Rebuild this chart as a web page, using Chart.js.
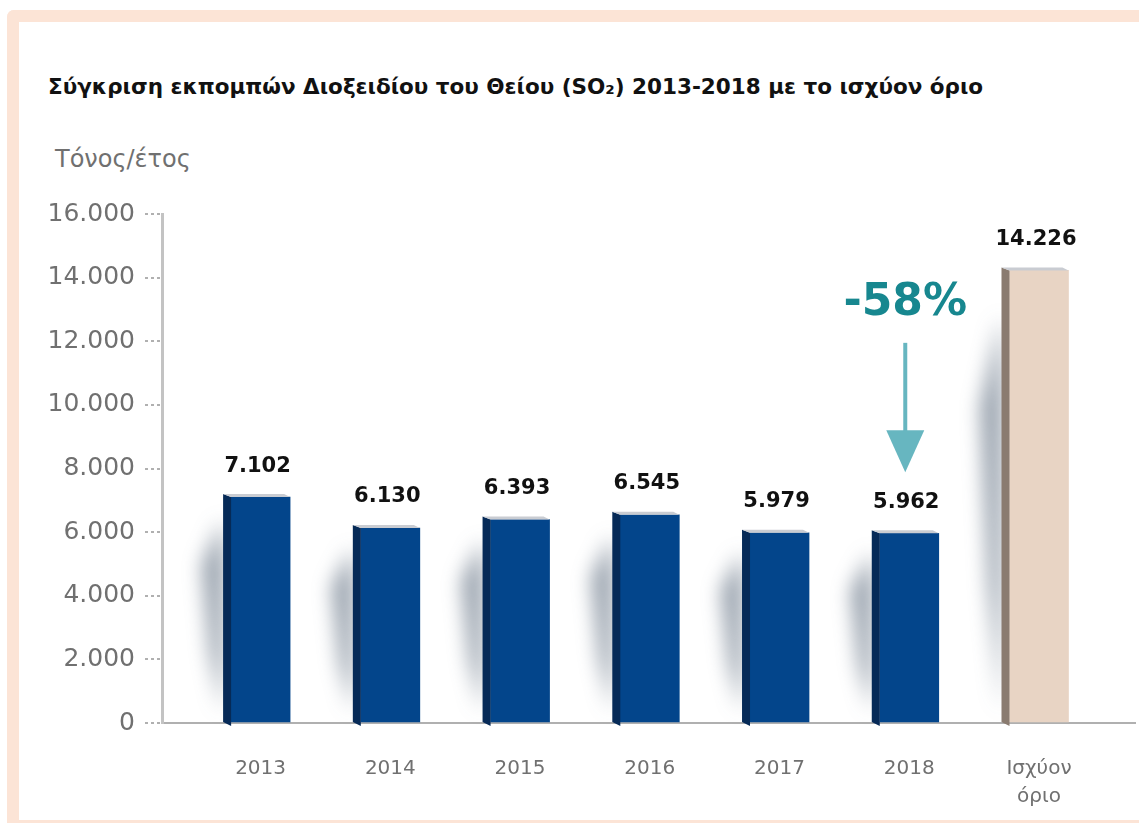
<!DOCTYPE html>
<html>
<head>
<meta charset="utf-8">
<script src="https://cdn.jsdelivr.net/npm/chart.js@4.4.1/dist/chart.umd.min.js"></script>
<style>
  html, body { margin: 0; padding: 0; background: #fff; }
  body { width: 1139px; height: 823px; position: relative; overflow: hidden; font-family: "DejaVu Sans", sans-serif; }
  #frame { position: absolute; left: 7px; top: 10px; width: 1200px; height: 798px; border: 12px solid #fce4d6; border-right: none; border-radius: 7px 0 0 0; }
  #titlos { position: absolute; left: 48px; top: 74px; font-size: 21.5px; font-weight: bold; color: #111; white-space: nowrap; }
  #monada { position: absolute; left: 55px; top: 145px; font-size: 24px; color: #707070; }
  #wrap { position: absolute; left: 0; top: 0; width: 1139px; height: 823px; }
</style>
</head>
<body>
<div id="frame"></div>
<div id="titlos">Σύγκριση εκπομπών Διοξειδίου του Θείου (SO₂) 2013-2018 με το ισχύον όριο</div>
<div id="monada">Τόνος/έτος</div>
<div id="wrap"><canvas id="grafima" width="1139" height="823"></canvas></div>
<script>
const katigories = [['2013'], ['2014'], ['2015'], ['2016'], ['2017'], ['2018'], ['Ισχύον', 'όριο']];
const ekpompes = [7102, 6130, 6393, 6545, 5979, 5962, 14226];
const yTicks = [0, 2000, 4000, 6000, 8000, 10000, 12000, 14000, 16000];
const meiosi = '-58%';

const xromata = ['#03458b', '#03458b', '#03458b', '#03458b', '#03458b', '#03458b', '#e8d4c4'];
const plagia = ['#062a57', '#062a57', '#062a57', '#062a57', '#062a57', '#062a57', '#8a7b70'];

function morfi(v) {
  return String(v).replace(/\B(?=(\d{3})+(?!\d))/g, '.');
}

const trisdiastato = {
  id: 'trisdiastato',
  beforeDatasetsDraw(chart) {
    const ctx = chart.ctx;
    const meta = chart.getDatasetMeta(0);
    ctx.save();
    ctx.filter = 'blur(10px)';
    meta.data.forEach((bar) => {
      const L = bar.x - bar.width / 2 - 8;
      const h = bar.base - bar.y;
      ctx.fillStyle = 'rgba(60, 78, 100, 0.6)';
      ctx.beginPath();
      ctx.moveTo(L, bar.y + h * 0.1);
      ctx.lineTo(L - 20, bar.y + h * 0.3);
      ctx.lineTo(L - 12, bar.y + h * 0.7);
      ctx.lineTo(L, bar.base - 10);
      ctx.closePath();
      ctx.fill();
    });
    ctx.restore();
  },
  afterDatasetsDraw(chart) {
    const ctx = chart.ctx;
    const meta = chart.getDatasetMeta(0);
    ctx.save();
    meta.data.forEach((bar, i) => {
      const L = bar.x - bar.width / 2;
      const R = bar.x + bar.width / 2;
      // plagia pleura
      ctx.fillStyle = plagia[i];
      ctx.beginPath();
      ctx.moveTo(L - 8, bar.y - 3);
      ctx.lineTo(L, bar.y);
      ctx.lineTo(L, bar.base + 4);
      ctx.lineTo(L - 8, bar.base);
      ctx.closePath();
      ctx.fill();
      // pano pleura
      ctx.fillStyle = '#c9ccd2';
      ctx.beginPath();
      ctx.moveTo(L - 8, bar.y - 3);
      ctx.lineTo(R - 6, bar.y - 3);
      ctx.lineTo(R, bar.y);
      ctx.lineTo(L, bar.y);
      ctx.closePath();
      ctx.fill();
      // etiketa timis
      ctx.fillStyle = '#111';
      ctx.font = 'bold 21px "DejaVu Sans"';
      ctx.textAlign = 'center';
      ctx.textBaseline = 'middle';
      ctx.fillText(morfi(ekpompes[i]), bar.x - 3, bar.y - 31);
    });

    // -58% kai velos pano apo to 2018
    const b = meta.data[5];
    const y = chart.scales.y;
    const cx = b.x - 4;
    ctx.fillStyle = '#17878f';
    ctx.font = 'bold 44px "DejaVu Sans"';
    ctx.textAlign = 'center';
    ctx.textBaseline = 'middle';
    ctx.fillText(meiosi, cx, y.getPixelForValue(13200));
    const y1 = y.getPixelForValue(11950);
    const y2 = y.getPixelForValue(7880);
    ctx.strokeStyle = '#67b6c0';
    ctx.fillStyle = '#67b6c0';
    ctx.lineWidth = 4;
    ctx.beginPath();
    ctx.moveTo(cx, y1);
    ctx.lineTo(cx, y2 - 30);
    ctx.stroke();
    ctx.beginPath();
    ctx.moveTo(cx - 19, y2 - 42);
    ctx.lineTo(cx + 19, y2 - 42);
    ctx.lineTo(cx, y2);
    ctx.closePath();
    ctx.fill();
    ctx.restore();
  }
};

new Chart(document.getElementById('grafima'), {
  type: 'bar',
  data: {
    datasets: [{
      data: ekpompes.map((v, i) => ({ x: i, y: v })),
      backgroundColor: xromata,
      barThickness: 59,
      borderWidth: 0
    }]
  },
  plugins: [trisdiastato],
  options: {
    responsive: false,
    animation: false,
    layout: { padding: { top: 214, right: 4, bottom: 0, left: 0 } },
    plugins: { legend: { display: false }, tooltip: { enabled: false } },
    scales: {
      x: {
        type: 'linear',
        offset: false,
        min: -0.76,
        max: 6.74,
        afterBuildTicks(scale) {
          scale.ticks = katigories.map((k, i) => ({ value: i }));
        },
        ticks: {
          autoSkip: false,
          maxRotation: 0,
          color: '#707070',
          font: { family: 'DejaVu Sans', size: 20, lineHeight: 1.4 },
          padding: 32,
          callback: (v) => katigories[v]
        },
        grid: { display: false, drawTicks: false },
        border: { display: true, color: '#b0b0b0', width: 2, dash: [3, 3] },
        afterFit(scale) { scale.height = 100; }
      },
      y: {
        min: 0,
        max: 16000,
        afterBuildTicks(scale) {
          scale.ticks = yTicks.map((v) => ({ value: v }));
        },
        ticks: {
          color: '#707070',
          font: { family: 'DejaVu Sans', size: 25 },
          padding: 10,
          callback: (v) => morfi(v)
        },
        grid: {
          drawOnChartArea: false,
          tickLength: 17,
          color: '#b0b0b0',
          lineWidth: 2,
          tickBorderDash: [3, 3]
        },
        border: { display: true, color: '#c3c3c3', width: 3 },
        afterFit(scale) { scale.width = 162; }
      }
    }
  }
});
</script>
</body>
</html>
